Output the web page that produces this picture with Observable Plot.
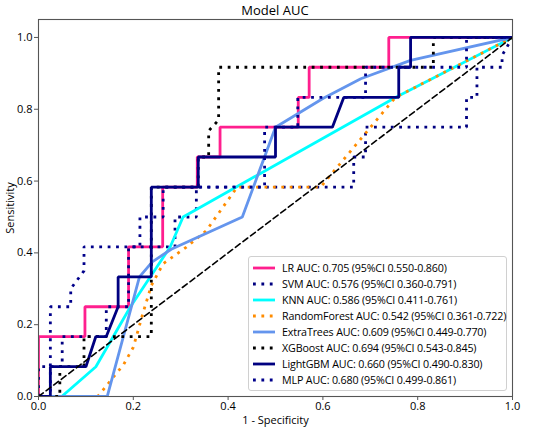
<!DOCTYPE html>
<html>
<head>
<meta charset="utf-8">
<script src="https://cdn.jsdelivr.net/npm/d3@7"></script>
<script src="https://cdn.jsdelivr.net/npm/@observablehq/plot@0.6"></script>
<style>
  html, body { margin: 0; padding: 0; background: #fff; }
  #wrap { position: relative; width: 534px; height: 432px; font-family: "Open Sans", "DejaVu Sans", sans-serif; }
  #title { position: absolute; left: 38px; width: 474px; top: 1px; text-align: center; font-size: 13px; color: #000; }
  #legend { position: absolute; left: 248px; top: 256px; width: 259px; height: 135px; box-sizing: border-box;
            border: 1px solid #d0d0d0; border-radius: 3px; background: rgba(255,255,255,0.85); padding: 3px 0 0 3px; }
  .row { height: 16px; display: flex; align-items: center; font-size: 10.7px; letter-spacing: -0.15px; white-space: nowrap; color: #000; }
  .row svg { margin-right: 6px; flex: none; }
</style>
</head>
<body>
<div id="wrap">
  <div id="title">Model AUC</div>
  <div id="chart"></div>
  <div id="legend"></div>
</div>
<script>
// ---- data ----
const modelNames = ["LR", "SVM", "KNN", "RandomForest", "ExtraTrees", "XGBoost", "LightGBM", "MLP"];
const aucLabels = [
  "LR AUC: 0.705 (95%CI 0.550-0.860)",
  "SVM AUC: 0.576 (95%CI 0.360-0.791)",
  "KNN AUC: 0.586 (95%CI 0.411-0.761)",
  "RandomForest AUC: 0.542 (95%CI 0.361-0.722)",
  "ExtraTrees AUC: 0.609 (95%CI 0.449-0.770)",
  "XGBoost AUC: 0.694 (95%CI 0.543-0.845)",
  "LightGBM AUC: 0.660 (95%CI 0.490-0.830)",
  "MLP AUC: 0.680 (95%CI 0.499-0.861)"
];
const modelColors = ["#ff1f8e", "#000080", "#00ffff", "#ff8c00", "#6495ed", "#000000", "#000080", "#00008b"];
const modelDotted = [false, true, false, true, false, true, false, true];

const lrFpr = [0,0,0.098,0.098,0.19,0.19,0.262,0.262,0.335,0.335,0.383,0.383,0.548,0.548,0.571,0.571,0.739,0.739,1];
const lrTpr = [0,0.167,0.167,0.25,0.25,0.417,0.417,0.583,0.583,0.667,0.667,0.75,0.75,0.833,0.833,0.917,0.917,1,1];

const svmFpr = [0,0,0.05,0.05,0.143,0.143,0.19,0.19,0.288,0.288,0.333,0.333,0.665,0.665,0.69,0.69,0.903,0.903,0.925,0.925,0.978,0.978,1];
const svmTpr = [0,0.083,0.083,0.167,0.167,0.25,0.25,0.417,0.417,0.5,0.5,0.583,0.583,0.667,0.667,0.75,0.75,0.833,0.833,0.917,0.917,0.95,1];

const knnFpr = [0,0.049,0.121,0.194,0.278,0.305,0.753,1];
const knnTpr = [0,0,0.083,0.25,0.417,0.5,0.833,1];

const rfFpr = [0,0.125,0.18,0.2,0.221,0.238,0.263,0.312,0.354,0.419,0.595,0.753,1];
const rfTpr = [0,0,0.09,0.137,0.235,0.309,0.37,0.416,0.462,0.583,0.583,0.833,1];

const etFpr = [0,0.145,0.213,0.24,0.28,0.43,0.5,0.6,0.68,0.785,1];
const etTpr = [0,0,0.333,0.375,0.41,0.5,0.75,0.83,0.885,0.936,1];

const xgbFpr = [0,0.045,0.045,0.096,0.096,0.238,0.238,0.337,0.337,0.359,0.359,0.38,0.38,0.833,0.833,1];
const xgbTpr = [0,0,0.083,0.083,0.167,0.167,0.583,0.583,0.667,0.667,0.74,0.77,0.917,0.917,1,1];

const lgbFpr = [0,0.025,0.025,0.1,0.121,0.143,0.168,0.168,0.238,0.238,0.337,0.337,0.5,0.5,0.62,0.644,0.76,0.76,0.785,0.785,1];
const lgbTpr = [0,0,0.083,0.083,0.167,0.167,0.25,0.333,0.333,0.583,0.583,0.667,0.667,0.75,0.75,0.833,0.833,0.917,0.917,1,1];

const mlpFpr = [0,0.025,0.025,0.068,0.068,0.096,0.096,0.214,0.214,0.263,0.263,0.477,0.477,0.547,0.547,0.69,0.69,0.903,0.903,1];
const mlpTpr = [0,0,0.25,0.25,0.3,0.35,0.417,0.417,0.5,0.5,0.583,0.583,0.75,0.75,0.833,0.833,0.917,0.917,1,1];

const chanceFpr = [0, 1];
const chanceTpr = [0, 1];

const axisTicks = [0, 0.2, 0.4, 0.6, 0.8, 1.0];

// ---- build ----
const curves = [
  [lrFpr, lrTpr], [svmFpr, svmTpr], [knnFpr, knnTpr], [rfFpr, rfTpr],
  [etFpr, etTpr], [xgbFpr, xgbTpr], [lgbFpr, lgbTpr], [mlpFpr, mlpTpr]
];
const toPts = (xs, ys) => xs.map((x, i) => ({fpr: x, tpr: ys[i]}));

const lineMarks = curves.map(([xs, ys], i) =>
  Plot.line(toPts(xs, ys), {
    x: "fpr", y: "tpr",
    stroke: modelColors[i],
    strokeWidth: 2.8,
    strokeDasharray: modelDotted[i] ? "2.8,5.6" : null,
    strokeLinecap: "butt",
    strokeLinejoin: "miter",
    clip: "frame"
  })
);

const chart = Plot.plot({
  width: 534,
  height: 432,
  marginLeft: 38,
  marginRight: 22,
  marginTop: 19,
  marginBottom: 36,
  style: {fontFamily: '"Open Sans", "DejaVu Sans", sans-serif', fontSize: "11px", color: "#000", background: "#fff"},
  x: {domain: [0, 1]},
  y: {domain: [0, 1.05]},
  marks: [
    ...lineMarks,
    Plot.line(toPts(chanceFpr, chanceTpr), {x: "fpr", y: "tpr", stroke: "#000", strokeWidth: 1.6, strokeDasharray: "6,3.5", clip: "frame"}),
    Plot.frame({stroke: "#555", strokeWidth: 1.1}),
    Plot.axisX({ticks: axisTicks, tickFormat: d3.format(".1f"), tickSize: 4, tickPadding: 2, stroke: "#555",
                label: "1 - Specificity", labelAnchor: "center", labelArrow: "none", labelOffset: 27, fontSize: 11}),
    Plot.axisY({ticks: axisTicks, tickFormat: d3.format(".1f"), tickSize: 4, tickPadding: 2, stroke: "#555",
                label: "Sensitivity", labelAnchor: "center", labelArrow: "none", labelOffset: 32, fontSize: 11})
  ]
});
document.getElementById("chart").appendChild(chart);

// ---- legend ----
const legend = document.getElementById("legend");
modelNames.forEach((name, i) => {
  const row = document.createElement("div");
  row.className = "row";
  const dash = modelDotted[i] ? 'stroke-dasharray="2.8,5.6"' : "";
  row.innerHTML = `<svg width="24" height="10"><line x1="1" y1="5" x2="23" y2="5" stroke="${modelColors[i]}" stroke-width="2.8" ${dash}/></svg><span>${aucLabels[i]}</span>`;
  legend.appendChild(row);
});
</script>
</body>
</html>
